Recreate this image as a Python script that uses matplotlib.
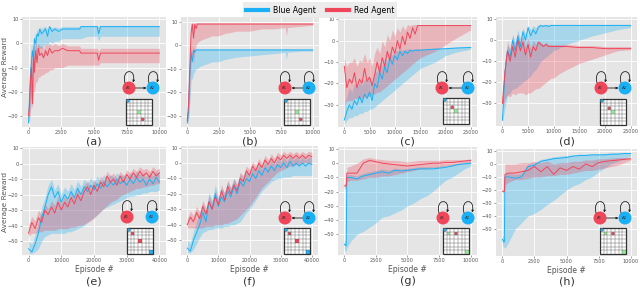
import matplotlib
matplotlib.use('Agg')
import matplotlib.pyplot as plt
from matplotlib.patches import Circle, Rectangle, FancyArrowPatch
from matplotlib.path import Path
from matplotlib.lines import Line2D

BLUE = '#1ab0f5'
RED = '#f0465a'
GREEN = '#9be89b'

# ---- data (episode, mean reward, band low, band high) ----
xa = [0, 80, 150, 220, 300, 380, 450, 550, 650, 750, 850, 1000, 1150, 1300, 1450, 1600, 1800,
      2000, 2300, 2600, 3000, 3500, 3900, 4000, 4500, 5000, 5250, 5350, 5500, 6500, 7500, 8500, 10000]
a_blue = [-33, -22, -12, -8, -3, -6, 2, 0, 4, 3, 6, 4, 5, 6, 3, 7, 5, 6, 5, 6, 6, 6, 6, 7, 7, 7, 7, 4, 7, 7, 7, 7, 7]
a_blue_lo = [-34, -30, -25, -20, -15, -12, -8, -6, -3, -4, -2, -2, -1, 0, -1, 1, 0, 1, 1, 2, 2, 2, 2, 2, 3, 3, 3, 1, 3, 3, 3, 3, 3]
a_blue_hi = [-30, -18, -8, -3, 0, -2, 4, 3, 6, 5, 7, 6, 7, 7, 6, 7.5, 6.5, 7, 6.5, 7, 7, 7, 7, 7.5, 7.5, 7.5, 7.5, 7, 7.5, 7.5, 7.5, 7.5, 7.5]
a_red = [-30, -25, -15, -10, -25, -5, -12, -3, -8, -2, -5, -4, -6, -3, -5, -2, -4, -3, -3, -2, -3, -3, -3, -4, -4, -4, -4, -7, -4, -4, -4, -4, -4]
a_red_lo = [-33, -32, -28, -25, -27, -20, -20, -16, -16, -14, -14, -13, -13, -12, -12, -11, -11, -10, -10, -10, -9, -9, -9, -9, -9, -9, -9, -9, -8, -8, -8, -8, -8]
a_red_hi = [-25, -15, -5, 0, -10, 0, -3, 1, -2, 0, -1, -1, -2, 0, -1, 0, -1, 0, -1, 0, -1, -1, -1, -2, -2, -2, -2, -3, -2, -2, -2, -2, -2]

xb = [0, 100, 200, 300, 400, 500, 600, 700, 800, 1000, 1500, 2000, 2500, 3000, 4000, 5000, 6000, 7000, 7800, 7900, 8000, 9000, 10000]
b_red = [-32, -25, -10, 5, 9, 3, 9, 7, 9, 9, 9, 9, 9, 9, 9, 9, 9, 9, 9, 9, 9, 9, 9]
b_red_lo = [-33, -30, -20, -8, -3, -8, -2, 0, 1, 2, 3, 4, 4, 5, 6, 6, 7, 7, 7.5, 4, 7.5, 8, 8.5]
b_red_hi = [-30, -20, -5, 9, 9.5, 9, 9.5, 9.5, 9.5, 9.5, 9.5, 9.5, 9.5, 9.5, 9.5, 9.5, 9.5, 9.5, 9.5, 9.5, 9.5, 9.5, 9.5]
b_blue = [-33, -28, -12, -3, -7, -2, -3, -2, -2, -2, -2, -2, -2, -2, -2, -2, -2, -2, -2, -2, -2, -2, -2]
b_blue_lo = [-34, -32, -25, -15, -14, -12, -11, -10, -10, -9, -8, -7, -7, -6, -5, -4.5, -4, -3.5, -3, -6, -3, -2.5, -2.5]
b_blue_hi = [-32, -20, -5, -1, -3, -1, -1.5, -1.5, -1.5, -1.5, -1.5, -1.5, -1.5, -1.5, -1.5, -1.5, -1.5, -1.5, -1.5, -1.5, -1.5, -1.5, -1.5]

xc = list(range(0, 15001, 500)) + [16000, 17000, 18000, 20000, 22000, 25000]
c_red = [-12, -22, -18, -20, -15, -22, -18, -20, -13, -19, -17, -21, -16, -10, -15, -8, -12, -5, -9, -3,
         -6, 0, -4, 2, -2, 4, 1, 6, 3, 7, 7, 7, 7, 7, 7, 7, 7]
c_red_lo = [-30, -28, -28, -28, -27, -27, -27, -27, -26, -26, -26, -25, -25, -24, -24, -23, -22, -21, -20, -19,
            -18, -17, -16, -15, -14, -13, -12, -11, -10, -9, -8, -7, -6, -5, -2, 1, 5]
c_red_hi = [-8, -12, -10, -10, -8, -12, -9, -10, -6, -10, -8, -12, -6, -3, -6, 0, -3, 3, 0, 5,
            2, 6, 4, 7, 5, 7.5, 7, 7.5, 7.5, 7.5, 7.5, 7.5, 7.5, 7.5, 7.5, 7.5, 7.5]
c_blue = [-37, -33, -30, -32, -28, -30, -26, -29, -25, -27, -24, -28, -20, -22, -15, -18, -12, -15, -8, -11,
          -7, -9, -5, -7, -5, -6, -4.5, -5, -4.5, -4.5, -4.5, -4.3, -4.2, -4, -3.8, -3.5, -3.2]
c_blue_lo = [-39, -37, -36, -36, -35, -35, -34, -34, -33, -33, -32, -32, -31, -30, -29, -28, -27, -26, -25, -24,
             -23, -22, -21, -20, -19, -18, -17, -16, -15, -14, -13, -12, -11, -10, -7, -5.5, -4]
c_blue_hi = [-30, -26, -22, -24, -20, -22, -19, -21, -18, -19, -17, -20, -14, -15, -10, -12, -8, -10, -5, -7,
             -4.5, -5, -4, -4.5, -4, -4, -3.8, -4, -3.8, -3.8, -3.8, -3.7, -3.6, -3.5, -3.3, -3.1, -2.9]

xd = list(range(0, 10001, 500)) + [11000, 12500, 15000, 17500, 20000, 22500, 25000]
d_blue = [-38, -15, -5, -8, 0, -5, 2, -3, 4, 0, 6, 2, 5, 3, 6, 7, 6.5, 7, 6.5, 7, 7, 7, 7, 7, 7, 7, 7, 7]
d_blue_lo = [-39, -32, -26, -25, -23, -23, -22, -21, -20, -19, -18, -17, -15, -14, -12, -10, -9, -8, -7, -6,
             -5, -4, -2, 0, 2, 3.5, 5, 6]
d_blue_hi = [-36, -10, -2, -4, 3, -1, 5, 1, 6, 3, 7, 5, 7, 6, 7.5, 7.5, 7.5, 7.5, 7.5, 7.5,
             7.5, 7.5, 7.5, 7.5, 7.5, 7.5, 7.5, 7.5]
d_red = [-30, -15, -5, -10, -3, -8, 0, -5, -1, -7, -2, -8, -3, -5, -1, -2, -3, -2, -3, -3,
         -3, -3, -3, -3.5, -3.5, -4, -4, -4]
d_red_lo = [-33, -28, -26, -27, -25, -26, -25, -25, -25, -26, -25, -25, -24, -23, -23, -22, -21, -20, -19, -18,
            -18, -16, -14, -11, -9, -7, -5, -4.5]
d_red_hi = [-25, -10, 0, -5, 2, -3, 3, -1, 2, -3, 1, -4, 0, -2, 0, -1, -2, -1, -2, -2,
            -2, -2, -2, -2.5, -2.5, -3, -3, -3]

xe = list(range(0, 40001, 1000))
e_red = [-45, -38, -42, -35, -38, -30, -33, -28, -32, -25, -30, -25, -28, -22, -26, -20, -24, -18, -15, -20,
         -14, -18, -12, -15, -8, -12, -10, -14, -8, -12, -7, -10, -6, -9, -5, -8, -6, -9, -5, -8, -6]
e_red_lo = [-47, -45, -45, -44, -44, -43, -43, -43, -43, -42, -42, -42, -42, -41, -41, -40, -40, -39, -38, -37,
            -35, -33, -31, -29, -27, -25, -24, -23, -21, -20, -19, -18, -17, -16, -16, -15, -15, -14, -14, -13, -13]
e_red_hi = [-40, -34, -37, -30, -33, -26, -29, -24, -27, -21, -26, -21, -24, -18, -22, -16, -20, -14, -11, -16,
            -10, -14, -8, -11, -5, -8, -6, -10, -5, -8, -4, -6, -3, -5, -2, -4, -3, -5, -2, -4, -3]
e_blue = [-55, -57, -52, -45, -35, -28, -20, -15, -22, -18, -25, -20, -23, -18, -22, -16, -20, -15, -18, -14,
          -17, -13, -16, -12, -15, -12, -14, -10, -13, -11, -14, -10, -13, -9, -12, -10, -14, -10, -13, -9, -12]
e_blue_lo = [-58, -58, -57, -55, -50, -47, -46, -45, -45, -45, -45, -45, -44, -44, -43, -42, -41, -40, -38, -36,
             -35, -33, -31, -29, -28, -27, -26, -25, -24, -23, -22, -21, -21, -20, -20, -19, -19, -18, -18, -18, -17]
e_blue_hi = [-50, -52, -46, -38, -28, -22, -14, -10, -17, -13, -20, -15, -18, -13, -17, -11, -15, -10, -13, -9,
             -12, -8, -11, -7, -10, -7, -9, -6, -8, -7, -9, -6, -8, -5, -7, -6, -9, -6, -8, -5, -7]

xf = list(range(0, 40001, 1000))
f_red = [-40, -35, -38, -32, -36, -28, -33, -25, -30, -22, -27, -18, -24, -15, -20, -14, -18, -10, -12, -5,
         -8, -2, -5, 0, -3, 2, -1, 3, 0, 4, 2, 5, 3, 5, 3, 5, 3, 5, 3, 5, 4]
f_red_lo = [-42, -42, -42, -42, -42, -42, -41, -41, -41, -40, -40, -40, -39, -39, -38, -37, -36, -34, -32, -30,
            -28, -25, -22, -19, -16, -14, -12, -10, -8, -6, -5, -4, -3, -2, -2, -1, -1, 0, 0, 0, 0]
f_red_hi = [-36, -31, -34, -28, -32, -24, -29, -21, -26, -18, -23, -14, -20, -11, -16, -10, -14, -6, -8, -2,
            -4, 1, -2, 3, 0, 5, 2, 6, 3, 7, 5, 7.5, 6, 7.5, 6, 7.5, 6, 7.5, 6, 7.5, 7]
f_blue = [-55, -57, -50, -45, -40, -32, -38, -25, -30, -20, -28, -22, -25, -18, -22, -15, -20, -12, -15, -10,
          -12, -7, -10, -5, -8, -3, -6, -2, -5, -1, -3, 0, -3, 1, -2, 0, -2, 0, -2, 0, -1]
f_blue_lo = [-58, -58, -56, -52, -48, -45, -44, -43, -43, -42, -42, -42, -41, -41, -40, -40, -39, -38, -35, -32,
             -30, -27, -24, -21, -18, -16, -14, -12, -11, -10, -10, -9, -9, -9, -8, -8, -8, -8, -8, -8, -8]
f_blue_hi = [-50, -52, -44, -38, -33, -26, -32, -19, -24, -14, -22, -16, -19, -12, -16, -10, -14, -7, -10, -5,
             -7, -3, -5, -1, -4, 1, -2, 2, -1, 3, 1, 4, 1, 5, 2, 4, 2, 4, 2, 4, 3]

xg = [0, 100, 150, 200, 500, 1000, 1500, 2000, 2500, 3000, 3500, 4000, 4500, 5000, 5500, 6000,
      6500, 7000, 7500, 8000, 8500, 9000, 9500, 10000]
g_red = [-16, -16, -16, -7, -7, -7, 0, 2, 1, 0, -0.5, -1, -1.5, -2, -1.5, -1, -0.5, 0, 0, 0.5, 0.5, 1, 1.5, 2]
g_red_lo = [-18, -18, -18, -13, -12, -12, -11, -10, -10, -9, -9, -8, -7, -6, -5, -4, -4, -3, -3, -2, -2, -1, 0, 0.5]
g_red_hi = [-14, -14, -14, -3, -2, 0, 3, 4, 3, 2.5, 2, 2, 1.5, 1, 1.5, 2, 2, 2, 2, 2.5, 2.5, 2.5, 2.5, 3]
g_blue = [-57, -58, -58, -10, -10, -11, -9, -8, -7, -6, -7, -5, -5.5, -5, -4.5, -4, -4, -4, -3.5, -3, -2, -1, -0.5, 0]
g_blue_lo = [-60, -62, -62, -60, -55, -50, -48, -45, -42, -38, -37, -35, -33, -30, -28, -25, -23, -20, -16, -12, -10, -7, -4, -2]
g_blue_hi = [-54, -55, -55, -8, -8, -9, -7, -6, -5, -4, -5, -3.5, -4, -3.5, -3, -2.5, -2.5, -2.5, -2, -1.5, -1, 0, 0.5, 1]

xh = xg
h_red = [-21, -21, -21, -8, -7, -7, -6, -5, -2, -6, -2, -8, -3, -5, -2, -4, 0, -2, 1, 2, 2.5, 3, 3.5, 4]
h_red_lo = [-22, -22, -22, -16, -14, -12, -12, -11, -10, -10, -9, -9, -8, -8, -7, -6, -5, -5, -4, -3, -2, -1, 1, 3]
h_red_hi = [-20, -20, -20, 0, 0, 0, 1, 1, 2, 1, 2, 0, 1, 1, 2, 2, 3, 3, 4, 4, 4.5, 5, 5, 5]
h_blue = [-58, -60, -60, -10, -10, -11, -10, -2, -1, 2, 3, 4, 4.5, 5, 6, 6.5, 6.5, 7, 7, 7, 7.5, 7.5, 8, 8]
h_blue_lo = [-62, -64, -64, -65, -60, -50, -45, -40, -38, -35, -31, -28, -24, -20, -17, -15, -12, -10, -6, -3, 0, 2, 4, 6]
h_blue_hi = [-55, -56, -56, -7, -7, -8, -7, 0, 1, 3.5, 4.5, 5.5, 6, 6.5, 7, 7.5, 7.5, 8, 8, 8, 8.5, 8.5, 8.5, 8.5]

letters = ['(a)', '(b)', '(c)', '(d)', '(e)', '(f)', '(g)', '(h)']

# axes boxes in pixels: left, top, right, bottom
boxes = [(22, 17, 166, 127), (181, 17, 319, 127), (338, 17, 477, 127), (496, 17, 637, 126),
         (22, 147, 166, 255), (181, 146, 318, 255), (338, 147, 477, 255), (496, 149, 637, 256)]
ylims = [(-34.7, 11), (-34.7, 12), (-40.3, 11), (-40.7, 11),
         (-59, 10.7), (-59.5, 11), (-64.6, 11.4), (-70.8, 11.5)]
xticks_10k = [0, 2500, 5000, 7500, 10000]
xticks_25k = [0, 5000, 10000, 15000, 20000, 25000]
xticks_40k = [0, 10000, 20000, 30000, 40000]
xticks = [xticks_10k, xticks_10k, xticks_25k, xticks_25k, xticks_40k, xticks_40k, xticks_10k, xticks_10k]

series = [
    (xa, a_blue, a_blue_lo, a_blue_hi, a_red, a_red_lo, a_red_hi),
    (xb, b_blue, b_blue_lo, b_blue_hi, b_red, b_red_lo, b_red_hi),
    (xc, c_blue, c_blue_lo, c_blue_hi, c_red, c_red_lo, c_red_hi),
    (xd, d_blue, d_blue_lo, d_blue_hi, d_red, d_red_lo, d_red_hi),
    (xe, e_blue, e_blue_lo, e_blue_hi, e_red, e_red_lo, e_red_hi),
    (xf, f_blue, f_blue_lo, f_blue_hi, f_red, f_red_lo, f_red_hi),
    (xg, g_blue, g_blue_lo, g_blue_hi, g_red, g_red_lo, g_red_hi),
    (xh, h_blue, h_blue_lo, h_blue_hi, h_red, h_red_lo, h_red_hi),
]

# inset diagrams: A1 x, A2 x, circle y, grid left, grid top, arrow, grid contents
insets = [
    (129, 153, 88, 126, 99, 'r', [('dot', 0, 0, BLUE), ('sq', 3, 3, GREEN), ('dot', 4, 5, RED)]),
    (285, 309, 88, 284, 99, 'l', [('dot', 0, 0, BLUE), ('sq', 3, 3, GREEN), ('dot', 4, 5, RED)]),
    (442, 468, 88, 443, 98, 'l', [('dot', 0, 0, BLUE), ('dot', 2, 2, RED), ('sq', 3, 3, GREEN)]),
    (601, 625, 88, 600, 99, 'r', [('dot', 0, 0, BLUE), ('dot', 2, 2, RED), ('sq', 3, 3, GREEN)]),
    (127, 152, 217, 127, 228, None, [('dot', 0, 0, BLUE), ('dot', 1, 1, RED), ('sq', 3, 3, RED), ('sq', 6, 6, BLUE)]),
    (285, 309, 218, 284, 228, 'l', [('dot', 0, 0, BLUE), ('dot', 1, 1, RED), ('sq', 3, 3, RED), ('sq', 6, 6, BLUE)]),
    (443, 468, 218, 443, 228, None, [('dot', 0, 0, BLUE), ('sq', 1, 1, GREEN), ('dot', 3, 1, RED), ('sq', 6, 6, GREEN)]),
    (600, 625, 218, 600, 228, 'r', [('dot', 0, 0, BLUE), ('sq', 1, 1, GREEN), ('dot', 3, 1, RED), ('sq', 6, 6, GREEN)]),
]

W, H = 640, 302
fig = plt.figure(figsize=(6.4, 3.02), dpi=100)
fig.patch.set_facecolor('white')

for i in range(8):
    l, t, r, b = boxes[i]
    ax = fig.add_axes([l / W, 1 - b / H, (r - l) / W, (b - t) / H])
    ax.set_facecolor('#e5e5e5')
    for s in ax.spines.values():
        s.set_visible(False)
    ax.grid(color='white', lw=0.6)
    ax.set_axisbelow(True)
    x, bm, blo, bhi, rm, rlo, rhi = series[i]
    ax.fill_between(x, blo, bhi, color=BLUE, alpha=0.3, lw=0)
    ax.fill_between(x, rlo, rhi, color=RED, alpha=0.3, lw=0)
    ax.plot(x, bm, color=BLUE, lw=0.7)
    ax.plot(x, rm, color=RED, lw=0.7)
    ax.set_ylim(ylims[i])
    ax.set_xticks(xticks[i])
    if i < 4:
        ax.set_yticks([-30, -20, -10, 0, 10])
    else:
        ax.set_yticks([-50, -40, -30, -20, -10, 0, 10])
        ax.set_xlabel('Episode #', fontsize=5.5, color='#555555', labelpad=1)
    ax.tick_params(labelsize=3.6, length=1.5, width=0.4, colors='#555555', pad=1)
    ax.margins(x=0.05)
    ly = 141 if i < 4 else 281
    fig.text((l + r) / 2 / W, 1 - ly / H, letters[i], fontsize=8, color='#333333', ha='center', va='center')

for yc in (67, 202):
    fig.text(5.5 / W, 1 - yc / H, 'Average Reward', fontsize=5.3, color='#555555', rotation=90,
             ha='center', va='center')

# overlay in pixel coordinates for the small agent diagrams
ov = fig.add_axes([0, 0, 1, 1])
ov.set_xlim(0, W)
ov.set_ylim(H, 0)
ov.axis('off')

rad = 6.5
cell = 26 / 7
for a1, a2, cy, gx, gy, arrow, items in insets:
    for cx, col, name in ((a1, RED, 'A1'), (a2, BLUE, 'A2')):
        ov.add_patch(Circle((cx, cy), rad, color=col, lw=0))
        ov.text(cx, cy, name, fontsize=2.8, color='#333333', ha='center', va='center')
        loop = Path([(cx - 4, cy - 5), (cx - 8, cy - 20), (cx + 8, cy - 20), (cx + 4, cy - 5.5)],
                    [Path.MOVETO, Path.CURVE4, Path.CURVE4, Path.CURVE4])
        ov.add_patch(FancyArrowPatch(path=loop, arrowstyle='-|>', mutation_scale=3, lw=0.6, color='#222222'))
    if arrow == 'r':
        ov.add_patch(FancyArrowPatch((a1 + rad, cy), (a2 - rad, cy), arrowstyle='-|>',
                                     mutation_scale=3, lw=0.6, color='#222222', shrinkA=0, shrinkB=0))
    elif arrow == 'l':
        ov.add_patch(FancyArrowPatch((a2 - rad, cy), (a1 + rad, cy), arrowstyle='-|>',
                                     mutation_scale=3, lw=0.6, color='#222222', shrinkA=0, shrinkB=0))
    ov.add_patch(Rectangle((gx, gy), 26, 26, facecolor='white', edgecolor='none'))
    for kind, c, rw, colr in items:
        if kind == 'sq':
            ov.add_patch(Rectangle((gx + c * cell, gy + rw * cell), cell, cell, facecolor=colr,
                                   edgecolor='none', zorder=2))
    for k in range(1, 7):
        ov.plot([gx + k * cell, gx + k * cell], [gy, gy + 26], color='#555555', lw=0.3, zorder=3)
        ov.plot([gx, gx + 26], [gy + k * cell, gy + k * cell], color='#555555', lw=0.3, zorder=3)
    ov.add_patch(Rectangle((gx, gy), 26, 26, facecolor='none', edgecolor='#333333', lw=0.9, zorder=4))
    for kind, c, rw, colr in items:
        if kind == 'dot':
            ov.add_patch(Circle((gx + (c + 0.5) * cell, gy + (rw + 0.5) * cell), 1.5, facecolor=colr,
                                edgecolor='#555555', lw=0.3, zorder=5))

handles = [Line2D([], [], color=BLUE, lw=3), Line2D([], [], color=RED, lw=3)]
leg = fig.legend(handles, ['Blue Agent', 'Red Agent'], loc='upper center', bbox_to_anchor=(0.5, 1.005),
                 ncol=2, fontsize=5.6, frameon=True, handlelength=2.8, columnspacing=1.5,
                 borderpad=0.45, handletextpad=0.6)
leg.get_frame().set_facecolor('#e8e8e8')
leg.get_frame().set_edgecolor('none')
leg.get_frame().set_boxstyle('square', pad=0)

fig.savefig('out.png', dpi=100)
